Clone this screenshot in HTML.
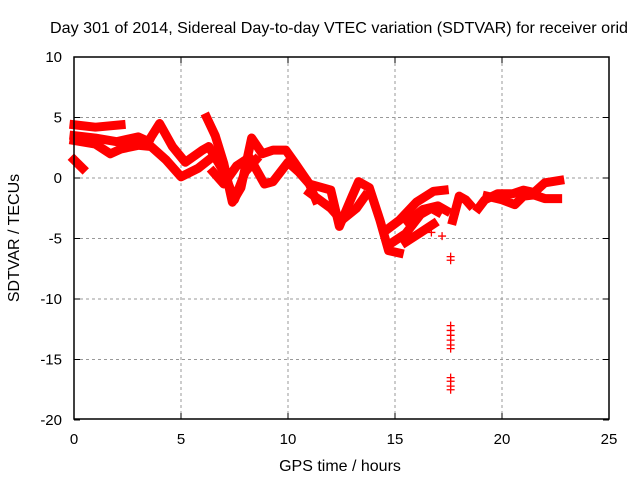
<!DOCTYPE html>
<html><head><meta charset="utf-8"><style>
body{margin:0;background:#fff}
svg{display:block;font-family:"Liberation Sans",sans-serif}
</style></head><body>
<svg id="chart" width="640" height="480" viewBox="0 0 640 480">
<text x="339" y="33" font-size="16" textLength="578" lengthAdjust="spacingAndGlyphs" text-anchor="middle">Day 301 of 2014, Sidereal Day-to-day VTEC variation (SDTVAR) for receiver orid</text>
<text x="340" y="471" font-size="16" text-anchor="middle">GPS time / hours</text>
<text transform="translate(19,238) rotate(-90)" font-size="16" text-anchor="middle">SDTVAR / TECUs</text>
<g id="grid"></g><g id="ticks"></g><g id="marks"></g>
<rect x="74" y="57" width="535" height="362" fill="none" stroke="#000" stroke-width="1.5"/>
</svg>
<script>
const xTicks=[0,5,10,15,20,25];
const yTicks=[-20,-15,-10,-5,0,5,10];
const trackA=[[0,4.4],[1,4.2],[2.2,4.4]];
const trackB=[[0,3.5],[1,3.3],[2,3.0],[3,3.4],[3.5,3.0]];
const trackC=[[0,3.1],[1,2.8],[1.7,2.0],[2.2,2.4],[3,2.7],[3.6,2.6],[4.3,1.5],[5,0.1],[5.8,0.8],[6.3,1.5]];
const trackD=[[0,1.5],[0.4,0.8]];
const trackE=[[3.5,3.1],[4,4.5],[4.6,2.6],[5.2,1.3],[6,2.3],[6.3,2.6],[7,0.5],[7.5,-1.8],[8,0.5],[8.5,1.5]];
const trackF=[[6.2,5.0],[6.6,3.5],[7,1.2],[7.4,-2.0],[7.8,-0.8],[8.3,3.3],[8.8,2.0],[9.3,2.3],[9.9,2.3],[10.3,1.3],[11,-0.5],[11.3,-1.8]];
const trackG=[[6.5,0.5],[7,-0.5],[7.6,1.0],[8.2,1.7],[8.9,-0.5],[9.3,-0.3],[10,1.3],[10.5,0.5],[11,-0.5],[12,-1.0],[12.4,-4.0],[13,-1.5],[13.3,-0.3],[13.8,-0.8],[14.3,-3.5],[14.7,-6.0],[15.2,-6.2]];
const trackH=[[11,-1.2],[12,-2.5],[12.5,-3.5],[13.2,-2.5],[13.6,-1.5]];
const trackI=[[14.6,-4.3],[15.2,-3.5],[16,-2.0],[16.8,-1.1],[17.3,-1.0]];
const trackJ=[[14.9,-5.3],[15.5,-4.6],[16.2,-3.0],[16.7,-2.5],[17.0,-2.8]];
const trackK=[[15.5,-5.3],[16.2,-4.5],[16.8,-3.8]];
const trackL=[[17.7,-3.5],[18.0,-1.5],[18.3,-1.8],[18.5,-2.2]];
const trackM=[[18.9,-2.5],[19.2,-1.8],[19.8,-1.3],[20.5,-1.3],[21,-1.0],[21.5,-1.2],[22,-0.4],[22.7,-0.2]];
const trackN=[[19.3,-1.5],[20,-1.8],[20.6,-2.2],[21,-1.5],[21.5,-1.4],[22,-1.7],[22.6,-1.7]];
const trackO=[[15.6,-3.6],[16.3,-2.6],[17,-2.3],[17.4,-2.7]];
const scatterT=[17.6,17.6,17.6,17.6,17.6,17.6,17.6,17.6,17.6,17.6,17.6,17.6,17.2,16.7,17.8];
const scatterV=[-6.5,-6.8,-12.2,-12.6,-13.0,-13.4,-13.8,-14.1,-16.5,-16.8,-17.2,-17.5,-4.8,-4.5,-3.0];
const tracks=[trackA,trackB,trackC,trackD,trackE,trackF,trackG,trackH,trackI,trackJ,trackK,trackL,trackM,trackN,trackO];
const X=t=>74+t*535/25, Y=v=>178-v*12.1;
const ns="http://www.w3.org/2000/svg";
const grid=document.getElementById('grid'),ticks=document.getElementById('ticks'),marks=document.getElementById('marks');
function mk(tag,attrs,parent){const e=document.createElementNS(ns,tag);for(const k in attrs)e.setAttribute(k,attrs[k]);parent.appendChild(e);return e;}
xTicks.forEach(t=>{const x=X(t);
 if(t>0&&t<25){const g=mk('line',{x1:x,y1:57,x2:x,y2:419,stroke:'#999','stroke-dasharray':'3,3'},grid);
 
 }
 mk('line',{x1:x,y1:419,x2:x,y2:413,stroke:'#000'},ticks);mk('line',{x1:x,y1:57,x2:x,y2:63,stroke:'#000'},ticks);
 const l=mk('text',{x:x,y:444,'font-size':15,'text-anchor':'middle'},ticks);l.textContent=t;
 
 });
yTicks.forEach(v=>{const y=Y(v);
 if(v>-20&&v<10){const g=mk('line',{x1:74,y1:y,x2:609,y2:y,stroke:'#999','stroke-dasharray':'3,3'},grid);
 
 }
 mk('line',{x1:74,y1:y,x2:80,y2:y,stroke:'#000'},ticks);mk('line',{x1:609,y1:y,x2:603,y2:y,stroke:'#000'},ticks);
 const l=mk('text',{x:62,y:y+5,'font-size':15,'text-anchor':'end'},ticks);l.textContent=v;
 
 });
tracks.forEach(tr=>{const p=mk('polyline',{points:tr.map(d=>X(d[0])+','+Y(d[1])).join(' '),fill:'none',stroke:'#f00','stroke-width':9,'stroke-linejoin':'round','stroke-linecap':'square'},marks);
 
 });
scatterT.forEach((t,i)=>{const x=X(t),y=Y(scatterV[i]);
 const p=mk('path',{d:`M${x-4},${y}H${x+4}M${x},${y-4}V${y+4}`,stroke:'#f00','stroke-width':1.3},marks);
 
 });
</script>
</body></html>
